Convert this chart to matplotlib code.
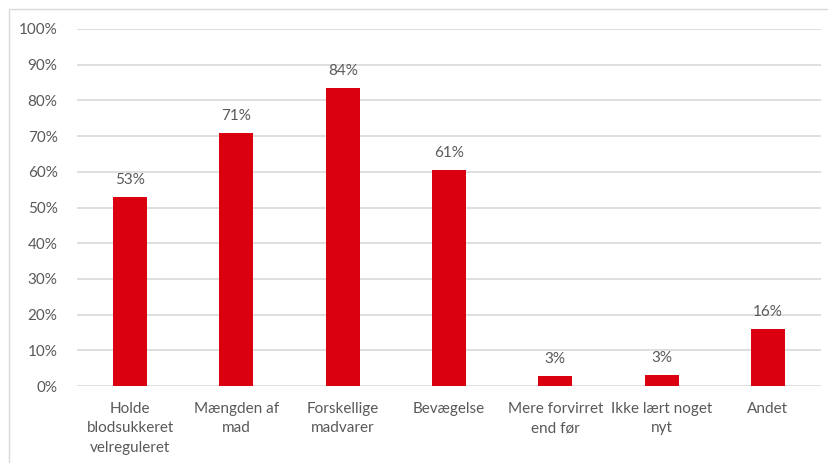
import matplotlib
matplotlib.use("Agg")
import matplotlib.pyplot as plt
from matplotlib.patches import Rectangle
from matplotlib.ticker import FuncFormatter

categories = ["Holde\nblodsukkeret\nvelreguleret", "Mængden af\nmad", "Forskellige\nmadvarer",
              "Bevægelse", "Mere forvirret\nend før", "Ikke lært noget\nnyt", "Andet"]
values = [53, 71, 83.5, 60.5, 2.8, 3.1, 16]
labels = ["53%", "71%", "84%", "61%", "3%", "3%", "16%"]

plt.rcParams['font.family'] = ['Lato', 'DejaVu Sans']
txt = '#595959'
fs = 11
fig = plt.figure(figsize=(8.29, 4.63), dpi=100)
fig.patches.append(Rectangle((9/829, -0.1), 1.2, 1 - 9/463 + 0.1, transform=fig.transFigure,
                             fill=False, edgecolor='#D9D9D9', linewidth=1.0))
ax = fig.add_axes([77/829, 1 - 386/463, (821 - 77)/829, (386 - 29)/463])
x = list(range(len(categories)))
ax.bar(x, values, width=0.32, color='#DA0010', zorder=3)
for xi, v, l in zip(x, values, labels):
    ax.annotate(l, (xi, v), xytext=(0, 7), textcoords='offset points', ha='center', va='bottom',
                fontsize=fs, color=txt)
ax.set_xlim(-0.5, len(categories) - 0.5)
ax.set_ylim(0, 100)
ax.set_yticks(range(0, 101, 10))
ax.yaxis.set_major_formatter(FuncFormatter(lambda v, p: f"{int(v)}%"))
ax.set_xticks(x)
ax.set_xticklabels(categories, linespacing=1.5)
ax.tick_params(axis='x', length=0, pad=11.5, labelsize=fs, labelcolor=txt)
ax.tick_params(axis='y', length=0, pad=14, labelsize=fs, labelcolor=txt)
ax.grid(axis='y', color='#D9D9D9', linewidth=1.2, zorder=0)
for s in ax.spines.values():
    s.set_visible(False)
fig.savefig("out.png", dpi=100)
